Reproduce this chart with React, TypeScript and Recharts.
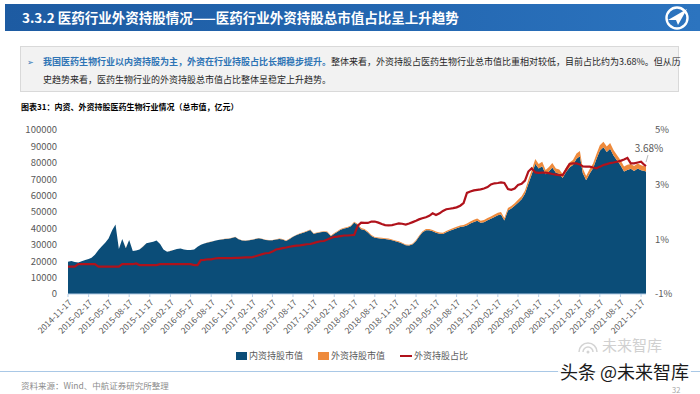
import React from 'react';
import { ComposedChart, Area, Line, XAxis, YAxis, Legend } from 'recharts';

// ---------- data ----------
const dates: string[] = [
  '2014-11-17', '2014-12-02', '2014-12-17',
  '2015-01-02', '2015-01-17', '2015-02-02', '2015-02-17', '2015-03-02', '2015-03-17', '2015-04-02', '2015-04-17',
  '2015-05-02', '2015-05-17', '2015-06-02', '2015-06-17', '2015-07-02', '2015-07-17', '2015-08-02', '2015-08-17',
  '2015-09-02', '2015-09-17', '2015-10-02', '2015-10-17', '2015-11-02', '2015-11-17', '2015-12-02', '2015-12-17',
  '2016-01-02', '2016-01-17', '2016-02-02', '2016-02-17', '2016-03-02', '2016-03-17', '2016-04-02', '2016-04-17',
  '2016-05-02', '2016-05-17', '2016-06-02', '2016-06-17', '2016-07-02', '2016-07-17', '2016-08-02', '2016-08-17',
  '2016-09-02', '2016-09-17', '2016-10-02', '2016-10-17', '2016-11-02', '2016-11-17', '2016-12-02', '2016-12-17',
  '2017-01-02', '2017-01-17', '2017-02-02', '2017-02-17', '2017-03-02', '2017-03-17', '2017-04-02', '2017-04-17',
  '2017-05-02', '2017-05-17', '2017-06-02', '2017-06-17', '2017-07-02', '2017-07-17', '2017-08-02', '2017-08-17',
  '2017-09-02', '2017-09-17', '2017-10-02', '2017-10-17', '2017-11-02', '2017-11-17', '2017-12-02', '2017-12-17',
  '2018-01-02', '2018-01-17', '2018-02-02', '2018-02-17', '2018-03-02', '2018-03-17', '2018-04-02', '2018-04-17',
  '2018-05-02', '2018-05-17', '2018-06-02', '2018-06-17', '2018-07-02', '2018-07-17', '2018-08-02', '2018-08-17',
  '2018-09-02', '2018-09-17', '2018-10-02', '2018-10-17', '2018-11-02', '2018-11-17', '2018-12-02', '2018-12-17',
  '2019-01-02', '2019-01-17', '2019-02-02', '2019-02-17', '2019-03-02', '2019-03-17', '2019-04-02', '2019-04-17',
  '2019-05-02', '2019-05-17', '2019-06-02', '2019-06-17', '2019-07-02', '2019-07-17', '2019-08-02', '2019-08-17',
  '2019-09-02', '2019-09-17', '2019-10-02', '2019-10-17', '2019-11-02', '2019-11-17', '2019-12-02', '2019-12-17',
  '2020-01-02', '2020-01-17', '2020-02-02', '2020-02-17', '2020-03-02', '2020-03-17', '2020-04-02', '2020-04-17',
  '2020-05-02', '2020-05-17', '2020-06-02', '2020-06-17', '2020-07-02', '2020-07-17', '2020-08-02', '2020-08-17',
  '2020-09-02', '2020-09-17', '2020-10-02', '2020-10-17', '2020-11-02', '2020-11-17', '2020-12-02', '2020-12-17',
  '2021-01-02', '2021-01-17', '2021-02-02', '2021-02-17', '2021-03-02', '2021-03-17', '2021-04-02', '2021-04-17',
  '2021-05-02', '2021-05-17', '2021-06-02', '2021-06-17', '2021-07-02', '2021-07-17', '2021-08-02', '2021-08-17',
  '2021-09-02', '2021-09-17', '2021-10-02', '2021-10-17', '2021-11-02', '2021-11-17', '2021-12-02', '2021-12-09',
];

// 内资持股市值（亿元）
const domesticCap: number[] = [
  19700, 20100, 19500, 19180, 19980, 20780, 21380, 22080, 23980, 26800,
  29100, 31200, 33800, 38900, 42400, 27400, 33470, 27970, 32870, 26180,
  26470, 27080, 28880, 30880, 31380, 31880, 32580, 30470, 27080, 25780,
  26280, 26780, 27380, 27680, 27080, 26780, 26780, 27080, 28780, 30030,
  30720, 31410, 31910, 32400, 32900, 33300, 33600, 33700, 34190, 34790,
  33390, 32690, 32490, 32790, 33080, 33570, 34060, 33540, 32940, 32740,
  32720, 33190, 33580, 33270, 32370, 33550, 34840, 35920, 36710, 37400,
  38090, 38970, 36680, 37160, 37650, 37940, 37720, 35230, 36790, 37880,
  39160, 39940, 40430, 41320, 43590, 42060, 39550, 38970, 37490, 35410,
  34230, 33940, 33760, 33480, 33290, 32700, 32090, 31590, 30810, 29730,
  29620, 30300, 32350, 34890, 37430, 38880, 38860, 38240, 37380, 36770,
  36640, 37590, 38560, 39340, 40110, 40870, 41120, 41840, 42980, 43940,
  44710, 43430, 43810, 44950, 45880, 46920, 47990, 48460, 44880, 50910,
  52190, 53820, 55680, 57790, 61110, 67080, 72880, 79460, 76580, 77920,
  73000, 74750, 77190, 73920, 73360, 70750, 74370, 77180, 78610, 82460,
  83940, 73690, 69360, 73410, 76710, 82330, 87380, 89440, 86530, 88610,
  84450, 81350, 78540, 74650, 75660, 76300, 75050, 76570, 75490, 75000,
  74740,
];

// 外资持股市值（亿元）
const foreignCap: number[] = [
  0, 0, 0, 20, 20, 20, 20, 20, 20, 0,
  0, 0, 0, 0, 0, 0, 30, 30, 30, 20,
  30, 20, 20, 20, 20, 20, 20, 30, 20, 20,
  20, 20, 20, 20, 20, 20, 20, 20, 20, 70,
  80, 90, 90, 100, 100, 100, 100, 100, 110, 110,
  110, 110, 110, 110, 120, 130, 140, 160, 160, 160,
  180, 210, 220, 230, 230, 250, 260, 280, 290, 300,
  310, 330, 320, 340, 350, 360, 380, 370, 410, 420,
  440, 460, 470, 480, 510, 640, 650, 630, 610, 590,
  570, 560, 540, 520, 510, 500, 510, 510, 490, 470,
  480, 500, 550, 610, 670, 720, 740, 760, 720, 730,
  760, 810, 840, 860, 890, 930, 980, 1160, 1220, 1260,
  1290, 1270, 1290, 1350, 1420, 1480, 1510, 1540, 1420, 1490,
  1510, 1580, 1720, 1810, 1990, 2420, 2720, 2840, 2720, 2780,
  2600, 2650, 2710, 2580, 2540, 2450, 2730, 3020, 3090, 3240,
  3260, 2810, 2640, 2790, 2890, 3070, 3320, 3460, 3370, 3490,
  3350, 3250, 3160, 3050, 3140, 3000, 2950, 3030, 3010, 2900,
  2860,
];

// 外资持股占比（%）
const foreignShare: number[] = [
  0.0, 0.0, 0.0, 0.09, 0.09, 0.09, 0.09, 0.09, 0.09, 0.0,
  0.0, 0.0, 0.0, 0.0, 0.0, 0.0, 0.09, 0.09, 0.09, 0.09,
  0.12, 0.06, 0.06, 0.06, 0.06, 0.06, 0.06, 0.09, 0.09, 0.09,
  0.09, 0.09, 0.09, 0.09, 0.09, 0.09, 0.09, 0.06, 0.06, 0.24,
  0.25, 0.27, 0.27, 0.3, 0.31, 0.31, 0.31, 0.31, 0.31, 0.32,
  0.32, 0.33, 0.34, 0.34, 0.35, 0.38, 0.42, 0.46, 0.49, 0.5,
  0.55, 0.63, 0.65, 0.68, 0.7, 0.73, 0.75, 0.77, 0.78, 0.8,
  0.82, 0.83, 0.86, 0.9, 0.93, 0.94, 0.99, 1.05, 1.09, 1.1,
  1.12, 1.14, 1.14, 1.15, 1.16, 1.5, 1.61, 1.6, 1.6, 1.65,
  1.65, 1.61, 1.56, 1.52, 1.51, 1.52, 1.55, 1.58, 1.57, 1.54,
  1.58, 1.63, 1.68, 1.73, 1.77, 1.81, 1.86, 1.95, 1.89, 1.95,
  2.04, 2.1, 2.12, 2.14, 2.17, 2.23, 2.33, 2.7, 2.75, 2.79,
  2.81, 2.83, 2.86, 2.91, 3.01, 3.05, 3.06, 3.08, 3.06, 2.84,
  2.81, 2.86, 2.99, 3.03, 3.15, 3.48, 3.6, 3.45, 3.43, 3.44,
  3.44, 3.42, 3.39, 3.37, 3.35, 3.35, 3.54, 3.76, 3.78, 3.78,
  3.74, 3.67, 3.66, 3.66, 3.63, 3.6, 3.66, 3.72, 3.75, 3.79,
  3.81, 3.84, 3.87, 3.92, 3.98, 3.78, 3.78, 3.81, 3.84, 3.72,
  3.68,
];

const xTickLabels: string[] = [
  '2014-11-17', '2015-02-17', '2015-05-17', '2015-08-17', '2015-11-17', '2016-02-17', '2016-05-17',
  '2016-08-17', '2016-11-17', '2017-02-17', '2017-05-17', '2017-08-17', '2017-11-17', '2018-02-17',
  '2018-05-17', '2018-08-17', '2018-11-17', '2019-02-17', '2019-05-17', '2019-08-17', '2019-11-17',
  '2020-02-17', '2020-05-17', '2020-08-17', '2020-11-17', '2021-02-17', '2021-05-17', '2021-08-17',
  '2021-11-17',
];
const leftTicks: number[] = [0, 10000, 20000, 30000, 40000, 50000, 60000, 70000, 80000, 90000, 100000];
const rightTicks: number[] = [-1, 1, 3, 5];
const seriesNames = { domestic: '内资持股市值', foreign: '外资持股市值', share: '外资持股占比' };
const legendOrder = [seriesNames.domestic, seriesNames.foreign, seriesNames.share];
const lastLabel = '3.68%';

const data = dates.map((d, i) => ({
  t: Date.parse(d),
  domestic: domesticCap[i],
  foreign: foreignCap[i],
  share: foreignShare[i],
}));
const xTicks = xTickLabels.map((s) => Date.parse(s));

const FONT = '"Noto Sans CJK SC", "Noto Sans", sans-serif';
const BLUE = '#0b4d78';
const ORANGE = '#ee8a3c';
const RED = '#b0121b';
const GRAY = '#595959';

const fmtDate = (t: number) => new Date(t).toISOString().slice(0, 10);

const LegendContent = (props: any) => {
  const payload = [...(props.payload || [])].sort(
    (a: any, b: any) => legendOrder.indexOf(a.value) - legendOrder.indexOf(b.value)
  );
  return (
    <div style={{ display: 'flex', justifyContent: 'center', alignItems: 'center', paddingLeft: 14, fontFamily: FONT, fontSize: 9, color: GRAY, lineHeight: '20px', height: 20 }}>
      {payload.map((p: any, i: number) => (
        <div key={i} style={{ display: 'flex', alignItems: 'center', marginRight: i < payload.length - 1 ? 15 : 0 }}>
          {p.type === 'plainline' ? (
            <svg width={12} height={8} style={{ marginRight: 2 }}>
              <line x1={0} y1={4} x2={12} y2={4} stroke={p.color} strokeWidth={2} />
            </svg>
          ) : (
            <svg width={11} height={8} style={{ marginRight: 2 }}>
              <rect x={0} y={0} width={11} height={8} fill={p.color} />
            </svg>
          )}
          <span>{p.value}</span>
        </div>
      ))}
    </div>
  );
};

const EndLabel = (props: any) => {
  const { x, y, index } = props;
  if (index !== data.length - 1 || x == null || y == null) return null;
  return (
    <g>
      <line x1={x + 2} y1={y - 11} x2={x} y2={y - 4} stroke="#a6a6a6" strokeWidth={0.8} />
      <text x={x + 3} y={y - 17} textAnchor="middle" dominantBaseline="middle" fontSize={10} fill={GRAY} fontFamily={FONT}>
        {lastLabel}
      </text>
    </g>
  );
};

export default function App() {
  return (
    <div style={{ position: 'relative', width: 700, height: 394, background: '#fff', overflow: 'hidden', fontFamily: FONT }}>
      <style>{'body{margin:0;}'}</style>

      {/* header banner */}
      <div style={{ position: 'absolute', left: 5, top: 4, width: 695, height: 27, background: 'linear-gradient(90deg, #1d5ba2 0%, #2468b2 60%, #2c74bf 100%)' }} />
      <div style={{ position: 'absolute', left: 22, top: 4, height: 27, lineHeight: '27px', color: '#fff', fontSize: 13.5, fontWeight: 700, whiteSpace: 'nowrap' }}>
        3.3.2 医药行业外资持股情况——医药行业外资持股总市值占比呈上升趋势
      </div>
      <svg style={{ position: 'absolute', left: 663, top: 5, width: 28, height: 26 }} viewBox="0 0 28 26">
        <circle cx={14} cy={13} r={10.5} fill="none" stroke="#fff" strokeWidth={2.4} />
        <path d="M5 15 L24 4 L15 20 L13 15 Z" fill="#fff" />
      </svg>

      {/* text box */}
      <div style={{ position: 'absolute', left: 20, top: 46, width: 659, height: 46, background: '#f2f2f2', border: '1px solid #d9d9d9', boxSizing: 'border-box' }} />
      <div style={{ position: 'absolute', left: 27, top: 55, fontSize: 8, color: '#2e74b5', lineHeight: '13px' }}>➢</div>
      <div style={{ position: 'absolute', left: 43, top: 53, display: 'flex', whiteSpace: 'nowrap', fontSize: 9, lineHeight: '18px', color: '#262626' }}>
        <span style={{ color: '#2e74b5', fontWeight: 700 }}>我国医药生物行业以内资持股为主，外资在行业持股占比长期稳步提升。</span>
        <span>整体来看，外资持股占医药生物行业总市值比重相对较低，目前占比约为3.68%。但从历</span>
      </div>
      <div style={{ position: 'absolute', left: 43, top: 71, whiteSpace: 'nowrap', fontSize: 9, lineHeight: '18px', color: '#262626' }}>
        史趋势来看，医药生物行业的外资持股总市值占比整体呈稳定上升趋势。
      </div>

      {/* chart title */}
      <div style={{ position: 'absolute', left: 21, top: 101, fontSize: 8, fontWeight: 700, color: '#000', lineHeight: '12px', whiteSpace: 'nowrap' }}>
        图表31：内资、外资持股医药生物行业情况（总市值，亿元）
      </div>

      {/* chart */}
      <div style={{ position: 'absolute', left: 0, top: 115 }}>
        <ComposedChart width={700} height={251} data={data} margin={{ top: 15, right: 10, bottom: 0, left: 0 }}>
          <XAxis
            dataKey="t"
            type="number"
            domain={['dataMin', 'dataMax']}
            ticks={xTicks}
            interval={0}
            tickFormatter={fmtDate}
            angle={-45}
            textAnchor="end"
            height={52}
            tickSize={3}
            tickMargin={2}
            tick={{ fontSize: 8.5, fill: GRAY, fontFamily: FONT }}
            axisLine={{ stroke: '#b4cde6', strokeWidth: 1 }}
            tickLine={{ stroke: '#b4cde6' }}
          />
          <YAxis
            yAxisId="left"
            orientation="left"
            width={68}
            domain={[0, 100000]}
            ticks={leftTicks}
            interval={0}
            axisLine={false}
            tickLine={false}
            tickSize={6}
            tickMargin={5}
            tick={{ fontSize: 9.5, fill: GRAY, fontFamily: FONT }}
          />
          <YAxis
            yAxisId="right"
            orientation="right"
            width={44}
            domain={[-1, 5]}
            ticks={rightTicks}
            interval={0}
            axisLine={false}
            tickLine={false}
            tickSize={6}
            tickMargin={3}
            tickFormatter={(v: number) => `${v}%`}
            tick={{ fontSize: 9.5, fill: GRAY, fontFamily: FONT }}
          />
          <Legend verticalAlign="bottom" height={20} content={LegendContent} />
          <Area
            yAxisId="left"
            dataKey="domestic"
            name={seriesNames.domestic}
            stackId="cap"
            type="linear"
            fill={BLUE}
            fillOpacity={1}
            stroke="none"
            legendType="rect"
            isAnimationActive={false}
          />
          <Area
            yAxisId="left"
            dataKey="foreign"
            name={seriesNames.foreign}
            stackId="cap"
            type="linear"
            fill={ORANGE}
            fillOpacity={1}
            stroke="none"
            legendType="rect"
            isAnimationActive={false}
          />
          <Line
            yAxisId="right"
            dataKey="share"
            name={seriesNames.share}
            type="linear"
            stroke={RED}
            strokeWidth={2.2}
            dot={false}
            activeDot={false}
            legendType="plainline"
            label={EndLabel}
            isAnimationActive={false}
          />
        </ComposedChart>
      </div>

      {/* footer */}
      <div style={{ position: 'absolute', left: 0, top: 371, width: 700, height: 1, background: '#a9c8e6' }} />
      <svg style={{ position: 'absolute', left: 576, top: 338, width: 24, height: 18 }} viewBox="0 0 24 18">
        <path d="M3 14 A9 9 0 0 1 21 14" fill="none" stroke="#d4d4d4" strokeWidth={1.5} />
        <path d="M7 14 A5 5 0 0 1 17 14" fill="none" stroke="#d4d4d4" strokeWidth={1.5} />
        <circle cx={12} cy={14} r={1.5} fill="#d4d4d4" />
      </svg>
      <div style={{ position: 'absolute', left: 602, top: 337, fontSize: 15, color: '#d0d0d0', lineHeight: '16px', whiteSpace: 'nowrap' }}>未来智库</div>
      <div style={{ position: 'absolute', left: 558, top: 362, fontSize: 18, color: '#1a1a1a', lineHeight: '18px', height: 18, overflow: 'visible', whiteSpace: 'nowrap', background: 'rgba(255,255,255,0.85)', padding: '0 2px' }}>
        头条 @未来智库
      </div>
      <div style={{ position: 'absolute', left: 21, top: 379, fontSize: 8.5, color: '#8c8c8c', lineHeight: '12px', whiteSpace: 'nowrap' }}>
        资料来源：Wind、中航证券研究所整理
      </div>
      <div style={{ position: 'absolute', left: 672, top: 386, fontSize: 7.5, color: '#a6a6a6', lineHeight: '8px' }}>32</div>
    </div>
  );
}
